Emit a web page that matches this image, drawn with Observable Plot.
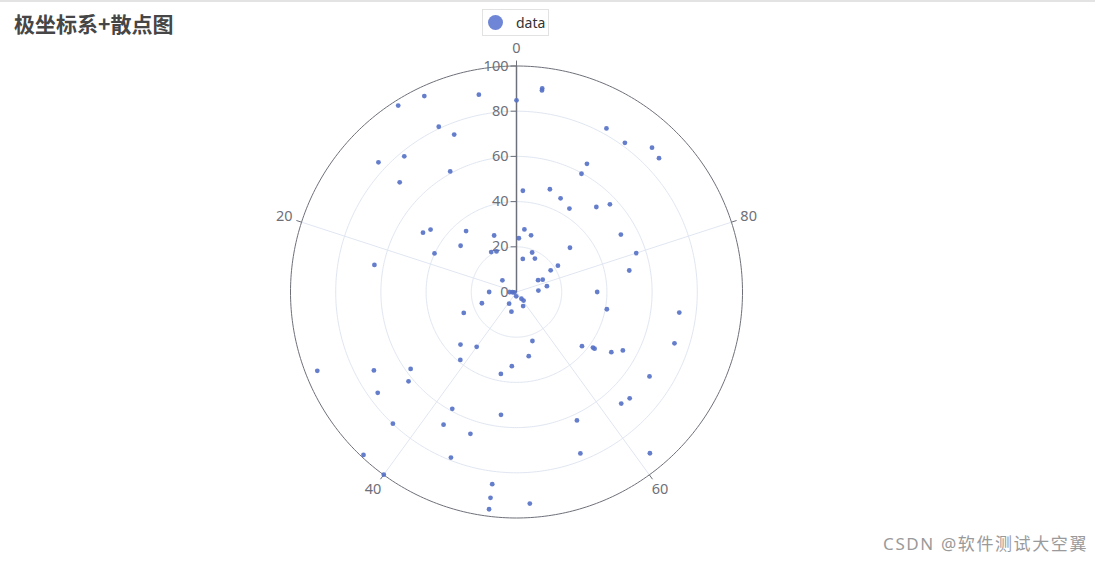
<!DOCTYPE html>
<html>
<head>
<meta charset="utf-8">
<script src="https://cdn.jsdelivr.net/npm/d3@7"></script>
<script src="https://cdn.jsdelivr.net/npm/@observablehq/plot@0.6"></script>
<style>
  html, body { margin: 0; padding: 0; background: #fff; }
  body { width: 1095px; height: 564px; overflow: hidden; position: relative; font-family: "Noto Sans", "Noto Sans CJK SC", sans-serif; }
  #topline { position: absolute; left: 0; top: 0; width: 1095px; height: 2px; background: #e3e3e3; }
  #title { position: absolute; left: 14px; top: 12px; font-size: 21px; line-height: 22px; font-weight: bold; color: #464646; font-family: "Noto Sans CJK SC", sans-serif; }
  #legend { position: absolute; left: 482px; top: 9px; width: 67px; height: 27px; border: 1px solid #e2e2e2; box-sizing: border-box; }
  #legend .sw { position: absolute; left: 5px; top: 5px; width: 15px; height: 15px; border-radius: 50%; background: #6f86d6; }
  #legend .lb { position: absolute; left: 33px; top: 3px; font-size: 14px; line-height: 19px; color: #333; }
  #wm { position: absolute; right: 7px; top: 533px; font-size: 17px; line-height: 22px; color: #9a9a9a; font-family: "Noto Sans", "Noto Sans CJK SC", sans-serif; letter-spacing: 1.6px; }
  #chart { position: absolute; left: 0; top: 0; }
</style>
</head>
<body>
<div id="chart"></div>
<div id="topline"></div>
<div id="title">极坐标系+散点图</div>
<div id="legend"><div class="sw"></div><div class="lb">data</div></div>
<div id="wm">CSDN @软件测试大空翼</div>
<script>
// angle axis: 0–100 (counter-clockwise from top), radius axis: 0–100
const angleValues = [
  9, 7, 3, 0, 7, 6, 13, 11, 8, 13, 16, 15, 11, 6, 99.3, 18, 14, 9, 7.3, 22, 14, 25, 25.5, 26, 29,
  98, 98, 92, 90, 88, 87, 92, 92, 99, 95, 93, 91, 88, 87, 98, 96, 83, 86, 94, 97, 92, 80, 84, 84, 78, 83, 82, 78, 76, 75,
  49, 60, 61, 57, 30, 41, 46, 31, 37, 40, 39, 31, 33, 35, 36, 35, 49, 47, 42, 48, 38, 42, 45, 38, 44, 40, 48, 48, 48,
  55, 53, 64, 65, 65, 66, 67, 72, 73, 70, 66, 63, 62, 57, 56, 61, 51
];
const radiusValues = [
  97.7, 95.8, 88.9, 84.8, 80.8, 74.9, 83.8, 77.9, 60.9, 70.9, 49.0, 47.0, 35.0, 26.9, 23.8, 40.1, 32.1, 20.9, 20.0, 64.0, 8.1, 12.1, 3.0, 1.8, 0.9,
  90.8, 89.9, 82.6, 81.6, 87.6, 86.5, 64.7, 59.7, 44.9, 47.8, 45.8, 43.7, 51.6, 56.7, 27.9, 25.9, 52.7, 30.7, 18.8, 14.9, 16.9, 55.7, 21.7, 17.9, 50.8, 10.9, 12.8, 13.7, 9.7, 35.7,
  1.9, 3.7, 4.9, 6.9, 16.1, 6.1, 9.0, 25.1, 34.0, 30.0, 39.0, 94.8, 72.0, 57.9, 62.0, 75.9, 32.9, 36.9, 59.0, 54.8, 79.9, 67.0, 66.0, 98.9, 78.8, 99.9, 85.7, 91.8, 96.9,
  22.8, 28.9, 37.6, 41.8, 42.7, 49.7, 53.7, 40.7, 72.6, 73.5, 69.7, 68.7, 67.7, 62.8, 76.8, 92.6, 93.8
];
const angleTicks = [0, 20, 40, 60, 80];
const radiusTicks = [0, 20, 40, 60, 80, 100];
const ringTicks = [20, 40, 60, 80];
const angleMax = 100, radiusMax = 100;

const toRad = a => a / angleMax * 2 * Math.PI;
const px = (a, r) => -r * Math.sin(toRad(a));
const py = (a, r) => r * Math.cos(toRad(a));

const points = angleValues.map((a, i) => ({a, r: radiusValues[i]}));

const ringPts = [];
for (const r of ringTicks) for (let a = 0; a <= angleMax; a += 0.25) ringPts.push({ring: r, a, r});
const outerPts = [];
for (let a = 0; a <= angleMax; a += 0.25) outerPts.push({a, r: radiusMax});

const axisColor = "#6e7079";
const splitColor = "#e0e6f1";

const chart = Plot.plot({
  width: 1095,
  height: 564,
  marginLeft: 290,
  marginRight: 353,
  marginTop: 65.5,
  marginBottom: 46.5,
  x: {domain: [-radiusMax, radiusMax], axis: null},
  y: {domain: [-radiusMax, radiusMax], axis: null},
  style: {fontFamily: "'Noto Sans', sans-serif", background: "transparent", overflow: "visible"},
  marks: [
    Plot.line(ringPts, {x: d => px(d.a, d.r), y: d => py(d.a, d.r), z: "ring", stroke: splitColor, strokeWidth: 1}),
    Plot.link(angleTicks, {x1: () => 0, y1: () => 0, x2: d => px(d, radiusMax), y2: d => py(d, radiusMax), stroke: splitColor, strokeWidth: 1}),
    Plot.line(outerPts, {x: d => px(d.a, d.r), y: d => py(d.a, d.r), stroke: axisColor, strokeWidth: 1}),
    Plot.link(angleTicks, {x1: d => px(d, radiusMax), y1: d => py(d, radiusMax), x2: d => px(d, radiusMax + 2.4), y2: d => py(d, radiusMax + 2.4), stroke: axisColor, strokeWidth: 1}),
    Plot.text(angleTicks, {x: d => px(d, 108), y: d => py(d, 108), text: d => String(d), fill: axisColor, fontSize: 14.5, textAnchor: "middle"}),
    Plot.link([0], {x1: () => 0, y1: () => 0, x2: () => 0, y2: () => radiusMax, stroke: axisColor, strokeWidth: 1.5}),
    Plot.link(radiusTicks, {x1: () => 0, y1: d => d, x2: () => -2.6, y2: d => d, stroke: axisColor, strokeWidth: 1}),
    Plot.text(radiusTicks, {x: () => 0, y: d => d, text: d => String(d), fill: axisColor, fontSize: 14.5, textAnchor: "end", dx: -8}),
    Plot.dot(points, {x: d => px(d.a, d.r), y: d => py(d.a, d.r), r: 2.4, fill: "#5470c6", fillOpacity: 0.9, stroke: "none"})
  ]
});
document.getElementById("chart").appendChild(chart);
</script>
</body>
</html>
